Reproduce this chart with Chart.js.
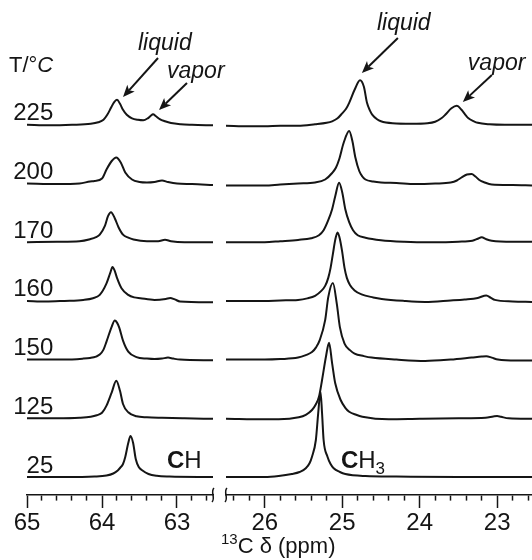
<!DOCTYPE html>
<html><head><meta charset="utf-8">
<script src="https://cdn.jsdelivr.net/npm/chart.js@4"></script>
<style>
html,body{margin:0;padding:0;background:#fff;}
#wrap{position:relative;width:532px;height:560px;overflow:hidden;background:#fff;}
#cL{position:absolute;left:0;top:0;width:240px;height:560px;}
#cR{position:absolute;left:214px;top:0;width:318px;height:560px;}
</style></head><body>
<div id="wrap"><canvas id="cL" width="240" height="560"></canvas><canvas id="cR" width="318" height="560"></canvas></div>
<script>
// ---- data (ppm, intensity) ----
const temperatures = [225, 200, 170, 160, 150, 125, 25]; // top to bottom, °C

// CH region (65 – 62.5 ppm)
const CH_225 = [[65.0,0],[64.7,-0.5],[64.4,0],[64.15,1],[64.05,2.5],[63.98,5],[63.93,10],[63.88,17],[63.84,22.5],[63.80,25],[63.76,21],[63.72,15],[63.67,10],[63.6,6.5],[63.52,5],[63.45,4.5],[63.39,6.5],[63.35,9],[63.32,10.5],[63.28,8.5],[63.23,5.7],[63.16,3.5],[63.08,1.7],[62.95,0.5],[62.8,0],[62.52,-0.5]];
const CH_200 = [[65.0,0],[64.6,-0.5],[64.3,0],[64.16,2],[64.1,2.5],[64.0,5],[63.94,14],[63.87,22.5],[63.81,26],[63.75,21],[63.69,11],[63.6,4],[63.5,1.5],[63.4,1],[63.3,1.5],[63.2,3],[63.12,1.5],[63.0,0],[62.8,-0.5],[62.52,-1.5]];
const CH_170 = [[65.0,0],[64.6,0.5],[64.3,1],[64.16,3],[64.08,5],[64.03,7.5],[63.96,16.5],[63.92,26],[63.88,30],[63.83,24],[63.78,15],[63.72,7.5],[63.65,4.5],[63.58,2.7],[63.4,1],[63.25,1],[63.16,2.5],[63.08,1],[62.9,0],[62.52,0]];
const CH_160 = [[65.0,0],[64.75,-0.7],[64.5,0],[64.25,1],[64.12,2.7],[64.03,6],[63.94,17.5],[63.89,28],[63.86,34],[63.83,30],[63.80,23],[63.74,12.7],[63.65,6],[63.57,3.5],[63.49,2.7],[63.3,1],[63.15,2],[63.09,3],[63.03,1.5],[62.96,-0.5],[62.52,-1.3]];
const CH_150 = [[65.0,0],[64.5,0],[64.25,1],[64.16,1.7],[64.08,3],[64.03,5],[63.98,10],[63.94,18],[63.87,33],[63.83,39],[63.80,37],[63.77,32],[63.72,19],[63.65,8],[63.54,2.5],[63.4,1],[63.3,0.5],[63.2,1],[63.12,2],[63.05,1],[62.96,0],[62.52,-0.7]];
const CH_125 = [[65.0,0],[64.6,0],[64.3,0.5],[64.15,1.5],[64.07,3],[64.0,5.5],[63.94,12.7],[63.87,26],[63.81,37.5],[63.76,27.5],[63.72,14.3],[63.65,6],[63.54,2],[63.4,1],[63.2,0.5],[62.9,0],[62.52,-0.5]];
const CH_25  = [[65.0,0],[64.5,0],[64.1,0.5],[63.94,1.5],[63.85,3.5],[63.79,6.5],[63.76,9],[63.72,13],[63.69,20],[63.65,34],[63.62,41],[63.585,34],[63.55,18],[63.51,10],[63.46,6.5],[63.38,3],[63.27,1.2],[63.1,0.5],[62.52,0]];

// CH3 region (26.5 – 22.55 ppm)
const CH3_225 = [[26.5,-1],[26.2,-1.5],[26.0,-1.5],[25.8,-1],[25.57,-1],[25.35,0.5],[25.2,2],[25.13,3.5],[25.06,6.5],[25.0,11.5],[24.95,16],[24.91,22],[24.84,35],[24.77,44.5],[24.72,38],[24.68,22],[24.64,14],[24.61,10],[24.55,5.5],[24.5,3.5],[24.35,1.5],[24.1,1],[23.9,1.5],[23.8,3],[23.72,6.5],[23.67,10],[23.59,16.5],[23.52,19],[23.46,15],[23.41,10],[23.37,6.5],[23.3,3.5],[23.25,2],[23.1,0.5],[22.9,0],[22.55,0]];
const CH3_200 = [[26.5,-2],[26.0,-2],[25.8,-1],[25.57,0],[25.35,1],[25.22,4],[25.13,10.5],[25.08,16],[25.04,24],[24.98,41],[24.91,52.5],[24.87,43],[24.83,26],[24.78,12.5],[24.74,7],[24.7,4],[24.6,2],[24.5,1],[24.3,0.5],[24.06,-0.5],[23.8,0],[23.6,1],[23.52,3],[23.46,6],[23.39,9],[23.33,9.5],[23.28,7],[23.23,3.5],[23.16,1],[23.07,-1],[22.8,-1.5],[22.55,-2]];
const CH3_170 = [[26.5,0],[26.0,0],[25.8,1],[25.57,2.3],[25.4,4],[25.3,7],[25.24,12],[25.18,22],[25.13,33],[25.09,46],[25.04,59.5],[25.0,50],[24.96,33],[24.91,20],[24.86,12],[24.8,7],[24.7,4.5],[24.5,2],[24.2,0.5],[23.85,0],[23.5,0.5],[23.32,1.5],[23.25,3.5],[23.2,5],[23.14,3],[23.07,1.5],[22.8,0.5],[22.55,0.5]];
const CH3_160 = [[26.5,0],[26.0,0],[25.8,0.5],[25.57,1],[25.45,2.5],[25.35,5],[25.27,10],[25.22,15],[25.18,23],[25.15,33],[25.12,47],[25.09,61],[25.06,68.5],[25.03,62],[25.0,49],[24.97,33],[24.94,23],[24.9,16],[24.84,10.5],[24.75,6.5],[24.6,3.5],[24.49,2],[24.2,0],[23.93,-1],[23.6,0.5],[23.42,1.5],[23.25,3],[23.14,5.5],[23.08,3],[23.03,1],[22.8,-0.5],[22.55,-1]];
const CH3_150 = [[26.5,0],[26.0,0],[25.8,0.5],[25.57,2],[25.47,4.5],[25.39,7.5],[25.34,12],[25.29,19.5],[25.22,39.5],[25.18,62.5],[25.12,76.5],[25.07,56],[25.03,32.5],[24.97,16],[24.9,9.5],[24.84,6],[24.72,3.5],[24.62,2],[24.3,0],[23.93,-1.4],[23.6,0],[23.33,2],[23.2,3],[23.14,3.3],[23.07,2],[22.99,0],[22.75,-1],[22.55,-1]];
const CH3_125 = [[26.5,-0.5],[26.0,-1],[25.82,-1],[25.56,1],[25.47,3.5],[25.39,8.3],[25.34,14],[25.3,21.5],[25.26,38.3],[25.21,61.6],[25.17,75.5],[25.13,55],[25.09,35],[25.02,18.3],[24.96,10.5],[24.91,6.6],[24.82,3.5],[24.74,1.6],[24.4,-1],[24.0,-0.5],[23.5,0],[23.15,0.5],[23.05,1.8],[23.0,2.3],[22.95,1.5],[22.85,0],[22.55,-0.5]];
const CH3_25  = [[26.5,0],[26.0,0],[25.82,1],[25.65,3],[25.55,5],[25.47,8.7],[25.42,14],[25.39,20.3],[25.34,37],[25.31,63.7],[25.28,85.3],[25.26,63.7],[25.24,37],[25.19,20.3],[25.15,13],[25.11,8.7],[25.03,5],[24.96,3],[24.7,1],[24.3,0.5],[23.5,0],[22.55,0]];

const chSeries  = [CH_225, CH_200, CH_170, CH_160, CH_150, CH_125, CH_25];
const ch3Series = [CH3_225, CH3_200, CH3_170, CH3_160, CH3_150, CH3_125, CH3_25];

const chRange  = [62.52, 65];    // ppm shown in CH panel
const ch3Range = [22.55, 26.5];  // ppm shown in CH3 panel
const tickStep = 0.2;

// ---- layout/style ----
const FONT = '"Liberation Sans", Arial, Helvetica, sans-serif';
const INK = '#151515';
const BASE0 = 18, STEP = 58.7;          // vertical stacking of traces (y units = px)
const baseline = i => BASE0 + STEP * (temperatures.length - 1 - i);

function datasets(series) {
  return series.map((pts, i) => ({
    label: temperatures[i] + ' °C',
    data: pts.map(p => ({x: p[0], y: baseline(i) + p[1]})),
    borderColor: INK, borderWidth: 2, pointRadius: 0, fill: false,
    cubicInterpolationMode: 'monotone'
  }));
}

const isInt = v => Math.abs(v - Math.round(v)) < 1e-6;

function xScale(range) {
  return {
    type: 'linear', reverse: true, min: range[0], max: range[1],
    afterFit: s => { s.height = 65; },
    border: {display: true, color: INK, width: 1.6},
    grid: {display: true, drawOnChartArea: false, drawTicks: true, tickLength: 13,
      tickColor: INK, tickWidth: 1.5,
      tickBorderDash: c => (c.tick && isInt(c.tick.value)) ? [] : [5, 100]},
    ticks: {stepSize: tickStep, includeBounds: false, autoSkip: false, maxRotation: 0,
      color: INK, padding: 1, font: {family: FONT, size: 24},
      callback: v => isInt(v) ? String(Math.round(v)) : ''}
  };
}

function drawRich(ctx, x, y, segs, align) {
  const base = 23;
  const fontOf = s => `${s.italic ? 'italic ' : ''}${s.bold ? 'bold ' : ''}${s.size || base}px ${FONT}`;
  let total = 0;
  segs.forEach(s => { ctx.font = fontOf(s); total += ctx.measureText(s.t).width; });
  let cx = align === 'right' ? x - total : x;
  ctx.textAlign = 'left'; ctx.textBaseline = 'alphabetic'; ctx.fillStyle = INK;
  segs.forEach(s => {
    ctx.font = fontOf(s);
    ctx.fillText(s.t, cx, y + (s.dy || 0));
    cx += ctx.measureText(s.t).width;
  });
}

function drawArrow(ctx, x1, y1, x2, y2) {
  const ang = Math.atan2(y2 - y1, x2 - x1), L = 12, W = 5;
  const bx = x2 - L * Math.cos(ang), by = y2 - L * Math.sin(ang);
  ctx.strokeStyle = INK; ctx.fillStyle = INK; ctx.lineWidth = 2;
  ctx.beginPath(); ctx.moveTo(x1, y1); ctx.lineTo(bx + 3 * Math.cos(ang), by + 3 * Math.sin(ang)); ctx.stroke();
  ctx.beginPath();
  ctx.moveTo(x2, y2);
  ctx.lineTo(bx + W * Math.sin(ang), by - W * Math.cos(ang));
  ctx.lineTo(bx + 3 * Math.cos(ang), by + 3 * Math.sin(ang));
  ctx.lineTo(bx - W * Math.sin(ang), by + W * Math.cos(ang));
  ctx.closePath(); ctx.fill();
}

function drawBreak(ctx, x, y) {
  ctx.strokeStyle = INK; ctx.lineWidth = 1.5;
  ctx.beginPath();
  ctx.moveTo(x - 1, y + 7);
  ctx.bezierCurveTo(x + 3, y + 3, x - 3, y - 3, x + 1, y - 7);
  ctx.stroke();
}

function annotPlugin(items) {
  return {
    id: 'annot',
    afterDraw(chart) {
      const ctx = chart.ctx, xs = chart.scales.x, ys = chart.scales.y;
      const P = (x, y) => [xs.getPixelForValue(x), ys.getPixelForValue(y)];
      ctx.save();
      items.forEach(it => {
        if (it.type === 'text') {
          const [px, py] = P(it.x, it.y);
          drawRich(ctx, px, py, it.segs, it.align);
        } else if (it.type === 'arrow') {
          const [ax, ay] = P(it.from[0], it.from[1]);
          const [bx, by] = P(it.to[0], it.to[1]);
          drawArrow(ctx, ax, ay, bx, by);
        } else if (it.type === 'break') {
          drawBreak(ctx, xs.getPixelForValue(it.x), chart.chartArea.bottom);
        }
      });
      ctx.restore();
    }
  };
}

const leftItems = [
  {type: 'text', x: 65.24, y: 423, segs: [{t: 'T/°', size: 22}, {t: 'C', italic: true, size: 22}]},
  ...temperatures.map((t, i) => ({type: 'text', x: 64.65, y: baseline(i) + 4.5, align: 'right', segs: [{t: String(t), size: 24}]})),
  {type: 'text', x: 63.52, y: 445.5, segs: [{t: 'liquid', italic: true}]},
  {type: 'text', x: 63.133, y: 417, segs: [{t: 'vapor', italic: true}]},
  {type: 'arrow', from: [63.253, 437], to: [63.72, 398]},
  {type: 'arrow', from: [62.867, 412], to: [63.24, 385]},
  {type: 'text', x: 63.133, y: 26.7, segs: [{t: 'C', bold: true, size: 24}, {t: 'H', size: 24}]},
  {type: 'break', x: chRange[0]}
];
const rightItems = [
  {type: 'text', x: 24.552, y: 465, segs: [{t: 'liquid', italic: true}]},
  {type: 'text', x: 23.378, y: 425, segs: [{t: 'vapor', italic: true}]},
  {type: 'arrow', from: [24.281, 457], to: [24.746, 422]},
  {type: 'arrow', from: [23.068, 420], to: [23.443, 393]},
  {type: 'text', x: 25.017, y: 26.7, segs: [{t: 'C', bold: true, size: 24}, {t: 'H', size: 24}, {t: '3', size: 17, dy: 6}]},
  {type: 'text', x: 26.565, y: -58, segs: [{t: '13', size: 15, dy: -9}, {t: 'C δ (ppm)', size: 22}]},
  {type: 'break', x: ch3Range[1]}
];

function makeChart(id, series, range, padL, padR, items) {
  return new Chart(document.getElementById(id), {
    type: 'line',
    data: {datasets: datasets(series)},
    options: {
      responsive: false, animation: false, events: [],
      layout: {padding: {left: padL, right: padR, top: 0, bottom: 0}},
      plugins: {legend: {display: false}, tooltip: {enabled: false}},
      scales: {
        x: xScale(range),
        y: {type: 'linear', display: false, min: 0, max: 495}
      }
    },
    plugins: [annotPlugin(items)]
  });
}

makeChart('cL', chSeries, chRange, 27, 27, leftItems);
makeChart('cR', ch3Series, ch3Range, 12, 0, rightItems);
</script>
</body></html>
